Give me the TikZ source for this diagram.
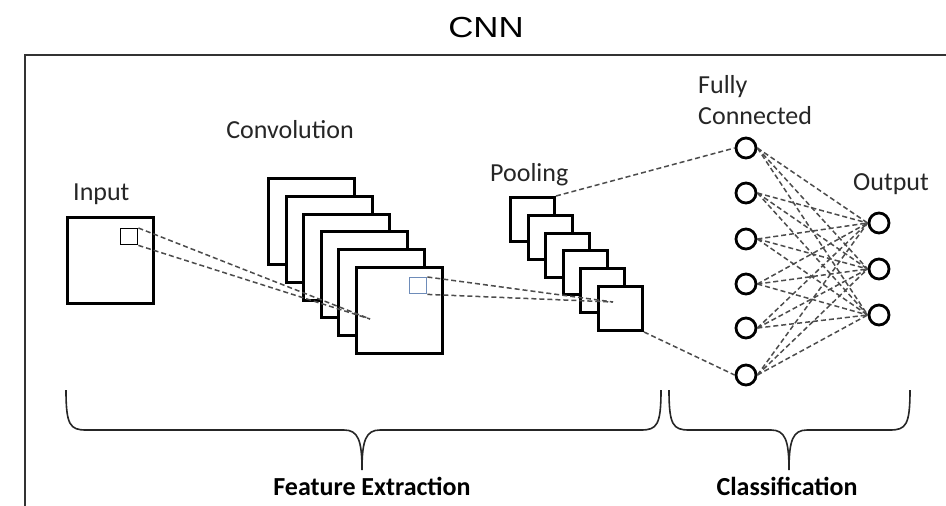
\documentclass[tikz,border=0pt]{standalone}
\usepackage{fontspec}
\setmainfont{Carlito}
\newfontfamily\titlefont{Liberation Sans}
\definecolor{kblue}{RGB}{110,140,185}
\begin{document}
\begin{tikzpicture}[x=1pt,y=-1pt,
  lbl/.style={inner sep=0pt,text=black!85,font=\fontsize{26}{31}\selectfont},
  blbl/.style={inner sep=0pt,font=\fontsize{26}{31}\selectfont\bfseries},
  bigsq/.style={draw=black,fill=white,line width=3pt,minimum size=86pt,inner sep=0pt,anchor=north west},
  poolsq/.style={draw=black,fill=white,line width=3pt,minimum size=44pt,inner sep=0pt,anchor=north west},
  kern/.style={draw=#1,line width=1.4pt,minimum width=17pt,minimum height=16pt,inner sep=0pt,anchor=north west},
  neuron/.style={circle,draw=black,line width=2.8pt,minimum size=20pt,inner sep=0pt},
  dline/.style={draw=black!70,line width=1.5pt,dash pattern=on 5pt off 3pt},
  brace/.style={draw=black!85,line width=1.6pt}]
\useasboundingbox (0,0) rectangle (946,506);
\clip (0,0) rectangle (946,506);
\fill[white] (0,0) rectangle (946,506);
% frame
\draw[black!80,line width=2.4pt] (25,530) -- (25,55) -- (970,55);
% title
\node[anchor=base,inner sep=0pt,font=\titlefont\fontsize{29}{34}\selectfont] (title) at (486,37) {\scalebox{1.2}[1]{CNN}};
% labels
\node[lbl,anchor=base west] (linput) at (73,200) {Input};
\node[lbl,anchor=base] (lconv) at (290,138) {Convolution};
\node[lbl,anchor=base west] (lpool) at (490,181) {Pooling};
\node[lbl,anchor=base west] (lfully) at (698,93) {Fully};
\node[lbl,anchor=base west] (lconn) at (698,124) {Connected};
\node[lbl,anchor=base west] (lout) at (853,190) {Output};
% input
\node[bigsq] (in) at (66,216) {};
\node[kern=black] (ink) at (120,228) {};
% convolution stack
\foreach \i in {0,...,5} {
  \node[bigsq] (c\i) at ({267+17.6*\i},{177+17.8*\i}) {};
}
\node[kern=kblue] (ck) at (409,277) {};
% pooling stack
\foreach \i in {0,...,5} {
  \node[poolsq] (p\i) at ({509+17.6*\i},{196+17.8*\i}) {};
}
% focus points
\coordinate (fc) at (370,319);
\coordinate (fp) at (613,302);
% dashed projections
\draw[dline] (ink.north east) -- (fc);
\draw[dline] (ink.south east) -- (fc);
\draw[dline] (ck.north east) -- (fp);
\draw[dline] (ck.south east) -- (fp);
% fully connected
\foreach \i/\y in {1/148,2/193,3/239,4/284,5/328,6/375} {
  \node[neuron] (f\i) at (746,\y) {};
}
\foreach \j/\y in {1/223,2/269,3/315} {
  \node[neuron] (o\j) at (879,\y) {};
}
\draw[dline] (p0.north east) -- (f1.west);
\draw[dline] (p5.south east) -- (f6.west);
\foreach \i in {1,...,6} {
  \foreach \j in {1,2,3} {
    \draw[dline] (f\i.east) -- (o\j.west);
  }
}
% braces
\draw[brace] (66,390) .. controls (66,425) and (70,430) .. (86,430) -- (344,430)
  .. controls (358,430) and (362,440) .. (362,470)
  .. controls (362,440) and (366,430) .. (380,430) -- (641,430)
  .. controls (657,430) and (661,425) .. (661,390);
\draw[brace] (669,390) .. controls (669,425) and (673,430) .. (689,430) -- (771,430)
  .. controls (785,430) and (789,440) .. (789,470)
  .. controls (789,440) and (793,430) .. (807,430) -- (890,430)
  .. controls (906,430) and (910,425) .. (910,390);
\node[blbl,anchor=base] (lfeat) at (372,495) {Feature Extraction};
\node[blbl,anchor=base] (lclass) at (787,495) {Classification};
\end{tikzpicture}
\end{document}
